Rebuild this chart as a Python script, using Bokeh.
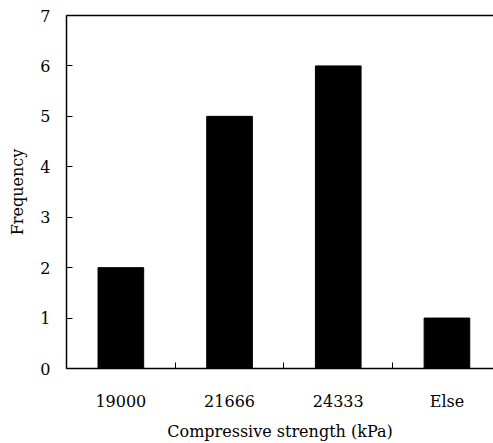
from bokeh.plotting import figure
from bokeh.models import Range1d, FixedTicker, LinearAxis, ColumnDataSource
from bokeh.embed import file_html
from bokeh.resources import INLINE

categories = ["19000", "21666", "24333", "Else"]
frequency = [2, 5, 6, 1]
y_ticks = [0, 1, 2, 3, 4, 5, 6, 7]

FONT = "DejaVu Serif"
FS = "16px"

centers = [i + 0.5 for i in range(len(categories))]
boundaries = [i for i in range(len(categories))]

src = ColumnDataSource(dict(x=centers, top=frequency, cat=categories))

p = figure(width=493, height=443, output_backend="svg", toolbar_location=None,
           x_range=Range1d(0, 427 / 108.7), y_range=Range1d(0, 7),
           min_border_left=66, min_border_top=15, min_border_right=0,
           min_border_bottom=75)
p.outline_line_color = None
p.grid.visible = False
p.background_fill_color = "white"

p.vbar(x="x", top="top", width=0.42, source=src, fill_color="black",
       line_color="black")

xa = p.xaxis[0]
xa.ticker = FixedTicker(ticks=centers, minor_ticks=boundaries)
xa.major_label_overrides = {c: lab for c, lab in zip(centers, categories)}
xa.major_tick_in = 0
xa.major_tick_out = 0
xa.minor_tick_in = 6
xa.minor_tick_out = 0
xa.minor_tick_line_color = "black"
xa.major_label_standoff = 23
xa.axis_label = "Compressive strength (kPa)"
xa.axis_label_standoff = 8

ya = p.yaxis[0]
ya.ticker = FixedTicker(ticks=y_ticks)
ya.major_tick_in = 6
ya.major_tick_out = 0
ya.minor_tick_in = 0
ya.minor_tick_out = 0
ya.major_label_standoff = 16
ya.axis_label = "Frequency"
ya.axis_label_standoff = 10

top_axis = LinearAxis(ticker=FixedTicker(ticks=[]), major_tick_out=0, major_tick_in=0,
                      minor_tick_in=0, minor_tick_out=0, major_label_standoff=0,
                      axis_line_color="black", axis_line_width=1.5)
p.add_layout(top_axis, "above")

for ax in (xa, ya):
    ax.axis_line_color = "black"
    ax.axis_line_width = 1.5
    ax.major_tick_line_color = "black"
    ax.major_tick_line_width = 1
    ax.major_label_text_font = FONT
    ax.major_label_text_font_size = FS
    ax.major_label_text_color = "black"
    ax.axis_label_text_font = FONT
    ax.axis_label_text_font_size = FS
    ax.axis_label_text_font_style = "normal"
    ax.axis_label_text_color = "black"

open("out.html", "w").write(file_html(p, INLINE))
